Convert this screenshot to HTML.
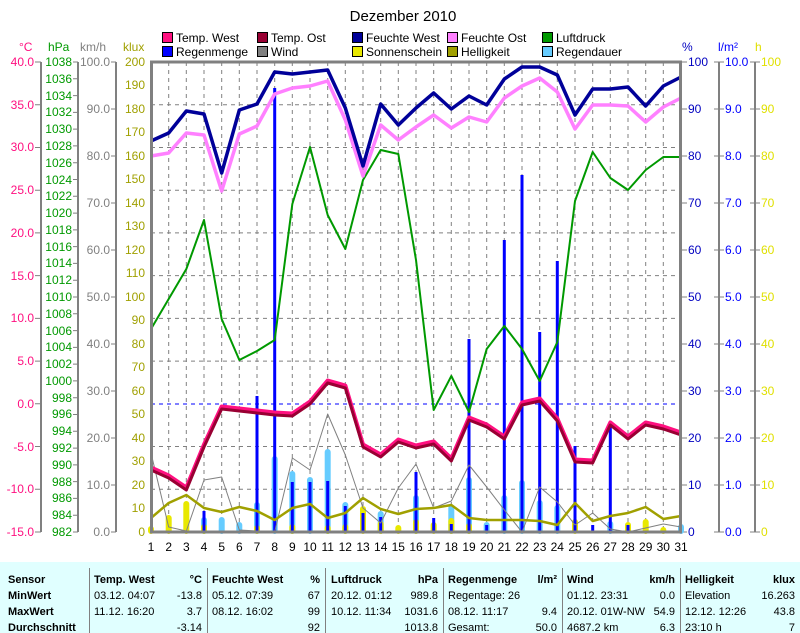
<!DOCTYPE html>
<html><head><meta charset="utf-8"><style>
html,body{margin:0;padding:0;background:#fff}
svg{display:block;font-family:"Liberation Sans",sans-serif}
</style></head><body>
<svg width="800" height="633" viewBox="0 0 800 633" xmlns="http://www.w3.org/2000/svg">
<rect width="800" height="633" fill="#fff"/>
<text x="403" y="21" font-size="15" text-anchor="middle">Dezember 2010</text>

<g font-size="12" stroke="#000" stroke-width="1">
<rect x="162.5" y="32.5" width="10" height="10" fill="#ff1080"/>
<rect x="257.5" y="32.5" width="10" height="10" fill="#990033"/>
<rect x="352.5" y="32.5" width="10" height="10" fill="#000099"/>
<rect x="447.5" y="32.5" width="10" height="10" fill="#ff80ff"/>
<rect x="542.5" y="32.5" width="10" height="10" fill="#009900"/>
<rect x="162.5" y="46.5" width="10" height="10" fill="#0000ff"/>
<rect x="257.5" y="46.5" width="10" height="10" fill="#808080"/>
<rect x="352.5" y="46.5" width="10" height="10" fill="#e8e800"/>
<rect x="447.5" y="46.5" width="10" height="10" fill="#a0a000"/>
<rect x="542.5" y="46.5" width="10" height="10" fill="#66ccff"/>
</g>
<g font-size="12" fill="#000">
<text x="176" y="42">Temp. West</text><text x="271" y="42">Temp. Ost</text><text x="366" y="42">Feuchte West</text><text x="461" y="42">Feuchte Ost</text><text x="556" y="42">Luftdruck</text>
<text x="176" y="56">Regenmenge</text><text x="271" y="56">Wind</text><text x="366" y="56">Sonnenschein</text><text x="461" y="56">Helligkeit</text><text x="556" y="56">Regendauer</text>
</g>

<g font-size="12">
<text x="19" y="51" fill="#ff1080">°C</text>
<text x="48" y="51" fill="#009900">hPa</text>
<text x="80" y="51" fill="#808080">km/h</text>
<text x="123" y="51" fill="#a0a000">klux</text>
<text x="682" y="51" fill="#0000c0">%</text>
<text x="718" y="51" fill="#0000ff">l/m²</text>
<text x="755" y="51" fill="#e0e000">h</text>
</g>

<g stroke="#808080" stroke-width="2" fill="none">
<line x1="41" y1="62" x2="41" y2="532"/>
<line x1="78" y1="62" x2="78" y2="532"/>
<line x1="116" y1="62" x2="116" y2="532"/>
<line x1="719" y1="62" x2="719" y2="532"/>
<line x1="755" y1="62" x2="755" y2="532"/>
</g>
<g stroke="#808080" stroke-width="1">
<path d="M35 532H41M35 489.3H41M35 446.5H41M35 403.8H41M35 361.1H41M35 318.4H41M35 275.6H41M35 232.9H41M35 190.2H41M35 147.5H41M35 104.7H41M35 62H41"/>
<path d="M73 532H78M73 515.2H78M73 498.4H78M73 481.6H78M73 464.9H78M73 448.1H78M73 431.3H78M73 414.5H78M73 397.7H78M73 380.9H78M73 364.1H78M73 347.4H78M73 330.6H78M73 313.8H78M73 297H78M73 280.2H78M73 263.4H78M73 246.6H78M73 229.9H78M73 213.1H78M73 196.3H78M73 179.5H78M73 162.7H78M73 145.9H78M73 129.1H78M73 112.4H78M73 95.6H78M73 78.8H78M73 62H78"/>
<path d="M111 532H116M111 485H116M111 438H116M111 391H116M111 344H116M111 297H116M111 250H116M111 203H116M111 156H116M111 109H116M111 62H116"/>
<path d="M681 532H687M681 485H687M681 438H687M681 391H687M681 344H687M681 297H687M681 250H687M681 203H687M681 156H687M681 109H687M681 62H687"/>
<path d="M714 532H724M714 485H724M714 438H724M714 391H724M714 344H724M714 297H724M714 250H724M714 203H724M714 156H724M714 109H724M714 62H724"/>
<path d="M750 532H760M750 485H760M750 438H760M750 391H760M750 344H760M750 297H760M750 250H760M750 203H760M750 156H760M750 109H760M750 62H760"/>
</g>

<g font-size="12" fill="#ff1080" text-anchor="end">
<text x="34" y="536">-15.0</text><text x="34" y="493">-10.0</text><text x="34" y="451">-5.0</text><text x="34" y="408">0.0</text><text x="34" y="365">5.0</text><text x="34" y="322">10.0</text><text x="34" y="280">15.0</text><text x="34" y="237">20.0</text><text x="34" y="194">25.0</text><text x="34" y="151">30.0</text><text x="34" y="109">35.0</text><text x="34" y="66">40.0</text>
</g>
<g font-size="12" fill="#009900" text-anchor="end">
<text x="72" y="536">982</text><text x="72" y="519">984</text><text x="72" y="502">986</text><text x="72" y="486">988</text><text x="72" y="469">990</text><text x="72" y="452">992</text><text x="72" y="435">994</text><text x="72" y="418">996</text><text x="72" y="402">998</text><text x="72" y="385">1000</text><text x="72" y="368">1002</text><text x="72" y="351">1004</text><text x="72" y="335">1006</text><text x="72" y="318">1008</text><text x="72" y="301">1010</text><text x="72" y="284">1012</text><text x="72" y="267">1014</text><text x="72" y="251">1016</text><text x="72" y="234">1018</text><text x="72" y="217">1020</text><text x="72" y="200">1022</text><text x="72" y="184">1024</text><text x="72" y="167">1026</text><text x="72" y="150">1028</text><text x="72" y="133">1030</text><text x="72" y="116">1032</text><text x="72" y="100">1034</text><text x="72" y="83">1036</text><text x="72" y="66">1038</text>
</g>
<g font-size="12" fill="#808080" text-anchor="end">
<text x="110" y="536">0.0</text><text x="110" y="489">10.0</text><text x="110" y="442">20.0</text><text x="110" y="395">30.0</text><text x="110" y="348">40.0</text><text x="110" y="301">50.0</text><text x="110" y="254">60.0</text><text x="110" y="207">70.0</text><text x="110" y="160">80.0</text><text x="110" y="113">90.0</text><text x="110" y="66">100.0</text>
</g>
<g font-size="12" fill="#a0a000" text-anchor="end">
<text x="145" y="536">0</text><text x="145" y="512">10</text><text x="145" y="489">20</text><text x="145" y="465">30</text><text x="145" y="442">40</text><text x="145" y="418">50</text><text x="145" y="395">60</text><text x="145" y="371">70</text><text x="145" y="348">80</text><text x="145" y="324">90</text><text x="145" y="301">100</text><text x="145" y="277">110</text><text x="145" y="254">120</text><text x="145" y="230">130</text><text x="145" y="207">140</text><text x="145" y="183">150</text><text x="145" y="160">160</text><text x="145" y="136">170</text><text x="145" y="113">180</text><text x="145" y="89">190</text><text x="145" y="66">200</text>
</g>
<g font-size="12" fill="#0000c0">
<text x="688" y="536">0</text><text x="688" y="489">10</text><text x="688" y="442">20</text><text x="688" y="395">30</text><text x="688" y="348">40</text><text x="688" y="301">50</text><text x="688" y="254">60</text><text x="688" y="207">70</text><text x="688" y="160">80</text><text x="688" y="113">90</text><text x="688" y="66">100</text>
</g>
<g font-size="12" fill="#0000ff">
<text x="725" y="536">0.0</text><text x="725" y="489">1.0</text><text x="725" y="442">2.0</text><text x="725" y="395">3.0</text><text x="725" y="348">4.0</text><text x="725" y="301">5.0</text><text x="725" y="254">6.0</text><text x="725" y="207">7.0</text><text x="725" y="160">8.0</text><text x="725" y="113">9.0</text><text x="725" y="66">10.0</text>
</g>
<g font-size="12" fill="#e0e000">
<text x="761" y="536">0</text><text x="761" y="489">10</text><text x="761" y="442">20</text><text x="761" y="395">30</text><text x="761" y="348">40</text><text x="761" y="301">50</text><text x="761" y="254">60</text><text x="761" y="207">70</text><text x="761" y="160">80</text><text x="761" y="113">90</text><text x="761" y="66">100</text>
</g>

<g stroke="#808080" stroke-width="1" stroke-dasharray="4,4">
<path d="M168.7 62V532M186.3 62V532M204 62V532M221.7 62V532M239.3 62V532M257 62V532M274.7 62V532M292.3 62V532M310 62V532M327.7 62V532M345.3 62V532M363 62V532M380.7 62V532M398.3 62V532M416 62V532M433.7 62V532M451.3 62V532M469 62V532M486.7 62V532M504.3 62V532M522 62V532M539.7 62V532M557.3 62V532M575 62V532M592.7 62V532M610.3 62V532M628 62V532M645.7 62V532M663.3 62V532"/>
<path d="M151 104.7H681M151 147.5H681M151 190.2H681M151 232.9H681M151 275.6H681M151 318.4H681M151 361.1H681M151 446.5H681M151 489.3H681"/>
</g>
<line x1="151" y1="404" x2="681" y2="404" stroke="#0000ff" stroke-dasharray="4,4"/>

<g stroke="#66ccff" stroke-width="6" stroke-linecap="round">
<path d="M204 520V531M221.7 520V531M239.3 525V531M257 505V531M274.7 459V531M292.3 474V531M310 480V531M327.7 452V531M345.3 505V531M380.7 514V531M416 498V531M451.3 508V531M469 480V531M486.7 525V531M504.3 498V531M522 483V531M539.7 503V531M557.3 508V531M610.3 524V531M681 527V531"/>
</g>
<g stroke="#e8e800" stroke-width="6" stroke-linecap="round">
<path d="M151 529V531M168.7 518V531M186.3 504V531M204 527V531M257 528V531M292.3 527V531M327.7 528V531M345.3 527V531M363 509V531M380.7 524V531M398.3 528V531M416 522V531M433.7 525V531M451.3 521V531M469 526V531M575 522V531M628 525V531M645.7 522V531M663.3 530V531"/>
</g>
<g stroke="#0000ff" stroke-width="3">
<path d="M204 511V532M257 396V532M274.7 88V532M292.3 482V532M310 482V532M327.7 481V532M345.3 506V532M363 513V532M380.7 517V532M416 472V532M433.7 518V532M451.3 524V532M469 339V532M486.7 525V532M504.3 240V532M522 175V532M539.7 332V532M557.3 261V532M575 446V532M592.7 525V532M610.3 422V532M628 525V532"/>
</g>

<g transform="translate(133.333,0) scale(17.667,1)" fill="none" stroke-linejoin="round">
<polyline vector-effect="non-scaling-stroke" stroke="#808080" stroke-width="1" points="1,453 2,527 3,531 4,480 5,477 6,530 7,531 8,532 9,458 10,470 11,414 12,455 13,508 14,523 15,488 16,464 17,508 18,501 19,465 20,487 21,510 22,532 23,487 24,502 25,525 26,513 27,529 28,532 29,528 30,524 31,527"/>
<polyline vector-effect="non-scaling-stroke" stroke="#a0a000" stroke-width="2.5" points="1,518 2,503 3,495 4,508 5,512 6,507 7,511 8,520 9,508 10,504 11,518 12,513 13,498 14,509 15,514 16,509 17,508 18,505 19,518 20,520 21,520 22,520 23,521 24,525 25,503 26,521 27,516 28,513 29,507 30,519 31,516"/>
<polyline vector-effect="non-scaling-stroke" stroke="#009900" stroke-width="2" points="1,329 2,299 3,269 4,220 5,319 6,360 7,351 8,340 9,204 10,147 11,215 12,249 13,180 14,150 15,154 16,260 17,410 18,376 19,412 20,349 21,326 22,349 23,381 24,342 25,201 26,152 27,178 28,190 29,170 30,157 31,157"/>
<polyline vector-effect="non-scaling-stroke" stroke="#ff80ff" stroke-width="3.5" points="1,156 2,153 3,133 4,135 5,191 6,134 7,126 8,94 9,88 10,86 11,81 12,120 13,176 14,125 15,140 16,127 17,115 18,128 19,117 20,122 21,98 22,86 23,78 24,92 25,129 26,105 27,105 28,106 29,122 30,107 31,98"/>
<polyline vector-effect="non-scaling-stroke" stroke="#000099" stroke-width="3.5" points="1,141 2,133 3,111 4,114 5,173 6,110 7,104 8,72 9,74 10,72 11,70 12,108 13,166 14,104 15,125 16,108 17,93 18,109 19,96 20,105 21,79 22,67 23,67 24,75 25,115 26,89 27,89 28,87 29,106 30,86 31,77"/>
<polyline vector-effect="non-scaling-stroke" stroke="#ff1080" stroke-width="4" transform="translate(0,-1.5)" points="1,469 2,477 3,489 4,446 5,408 6,410 7,412 8,414 9,415 10,403 11,382 12,387 13,446 14,456 15,441 16,447 17,443 18,460 19,419 20,426 21,438 22,404 23,400 24,420 25,461 26,462 27,424 28,438 29,424 30,428 31,434"/>
<polyline vector-effect="non-scaling-stroke" stroke="#990033" stroke-width="3" transform="translate(0,1)" points="1,469 2,477 3,489 4,446 5,408 6,410 7,412 8,414 9,415 10,403 11,382 12,387 13,446 14,456 15,441 16,447 17,443 18,460 19,419 20,426 21,438 22,404 23,400 24,420 25,461 26,462 27,424 28,438 29,424 30,428 31,434"/>
</g>

<rect x="151.5" y="62" width="529" height="470" fill="none" stroke="#808080" stroke-width="3"/>

<g font-size="12" fill="#000" text-anchor="middle">
<text x="151" y="551">1</text><text x="168.7" y="551">2</text><text x="186.3" y="551">3</text><text x="204" y="551">4</text><text x="221.7" y="551">5</text><text x="239.3" y="551">6</text><text x="257" y="551">7</text><text x="274.7" y="551">8</text><text x="292.3" y="551">9</text><text x="310" y="551">10</text><text x="327.7" y="551">11</text><text x="345.3" y="551">12</text><text x="363" y="551">13</text><text x="380.7" y="551">14</text><text x="398.3" y="551">15</text><text x="416" y="551">16</text><text x="433.7" y="551">17</text><text x="451.3" y="551">18</text><text x="469" y="551">19</text><text x="486.7" y="551">20</text><text x="504.3" y="551">21</text><text x="522" y="551">22</text><text x="539.7" y="551">23</text><text x="557.3" y="551">24</text><text x="575" y="551">25</text><text x="592.7" y="551">26</text><text x="610.3" y="551">27</text><text x="628" y="551">28</text><text x="645.7" y="551">29</text><text x="663.3" y="551">30</text><text x="681" y="551">31</text>
</g>

<rect x="0" y="562" width="800" height="71" fill="#e0ffff"/>
<g stroke="#808080" stroke-width="1">
<path d="M89.5 568V633M207.5 568V633M325.5 568V633M443.5 568V633M562.5 568V633M680.5 568V633"/>
</g>
<g font-size="11" fill="#000">
<g font-weight="bold">
<text x="8" y="583">Sensor</text><text x="8" y="599">MinWert</text><text x="8" y="615">MaxWert</text><text x="8" y="631">Durchschnitt</text>
<text x="94" y="583">Temp. West</text><text x="212" y="583">Feuchte West</text><text x="331" y="583">Luftdruck</text><text x="448" y="583">Regenmenge</text><text x="567" y="583">Wind</text><text x="685" y="583">Helligkeit</text>
</g>
<g font-weight="bold" text-anchor="end">
<text x="202" y="583">°C</text><text x="320" y="583">%</text><text x="438" y="583">hPa</text><text x="557" y="583">l/m²</text><text x="675" y="583">km/h</text><text x="795" y="583">klux</text>
</g>
<text x="94" y="599">03.12.  04:07</text><text x="94" y="615">11.12.  16:20</text>
<text x="212" y="599">05.12.  07:39</text><text x="212" y="615">08.12.  16:02</text>
<text x="331" y="599">20.12.  01:12</text><text x="331" y="615">10.12.  11:34</text>
<text x="448" y="599">Regentage: 26</text><text x="448" y="615">08.12.  11:17</text><text x="448" y="631">Gesamt:</text>
<text x="567" y="599">01.12.  23:31</text><text x="567" y="615">20.12.  01W-NW</text><text x="567" y="631">4687.2 km</text>
<text x="685" y="599">Elevation</text><text x="685" y="615">12.12.  12:26</text><text x="685" y="631">23:10 h</text>
<g text-anchor="end">
<text x="202" y="599">-13.8</text><text x="202" y="615">3.7</text><text x="202" y="631">-3.14</text>
<text x="320" y="599">67</text><text x="320" y="615">99</text><text x="320" y="631">92</text>
<text x="438" y="599">989.8</text><text x="438" y="615">1031.6</text><text x="438" y="631">1013.8</text>
<text x="557" y="615">9.4</text><text x="557" y="631">50.0</text>
<text x="675" y="599">0.0</text><text x="675" y="615">54.9</text><text x="675" y="631">6.3</text>
<text x="795" y="599">16.263</text><text x="795" y="615">43.8</text><text x="795" y="631">7</text>
</g>
</g>
</svg>
</body></html>
